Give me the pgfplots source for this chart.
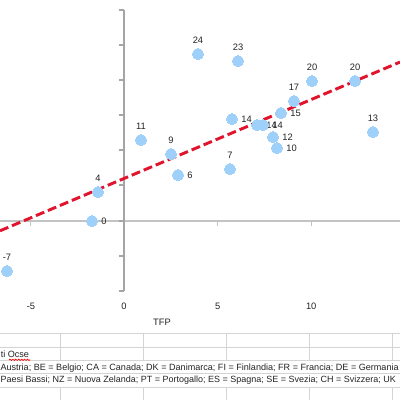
\documentclass[border=0pt]{standalone}
\usepackage{fontspec}
\setmainfont{Liberation Sans}
\usepackage{pgfplots}
\usepackage{pgfplotstable}
\pgfplotsset{compat=1.18}
\usetikzlibrary{decorations.pathmorphing}
\definecolor{dotblue}{RGB}{158,208,250}
\definecolor{trendred}{RGB}{225,20,45}
\definecolor{axgray}{RGB}{165,165,165}
\definecolor{xaxgray}{RGB}{195,195,195}
\definecolor{gridgray}{RGB}{212,212,212}
\definecolor{txt}{RGB}{35,35,35}

\pgfplotstableread{
x y label
3.953 23.857 24
0.908 11.571 11
2.511 9.571 9
-1.389 4.143 4
6.090 22.857 23
10.043 20.0 20
12.340 20.0 20
9.081 17.143 17
5.662 7.429 7
13.301 12.714 13
-6.250 -7.143 -7
}\abovedata

\pgfplotstableread{
x y label
2.885 6.571 6
8.387 15.429 15
5.769 14.571 14
7.105 13.714 14
7.425 13.714 14
7.959 12.0 12
8.173 10.429 10
-1.709 0.0 0
}\rightdata

\begin{document}
\begin{tikzpicture}
\useasboundingbox (0pt,0pt) rectangle (300pt,300pt);
\clip (0pt,0pt) rectangle (300pt,300pt);
\begin{scope}[shift={(0pt,300pt)}, x=0.75pt, y=-0.75pt]
  % spreadsheet grid
  \foreach \yy in {334,348,361,374,388} \draw[gridgray, line width=0.75pt] (-2,\yy) -- (402,\yy);
  \foreach \xx in {60,143,226,309,392} {
    \draw[gridgray, line width=0.75pt] (\xx,334) -- (\xx,361);
    \draw[gridgray, line width=0.75pt] (\xx,388) -- (\xx,402);
  }
  % spreadsheet text
  \node[anchor=base west, inner sep=0pt, font=\fontsize{6.8}{7}\selectfont, text=txt] at (0.5,357.3) {ti Ocse};
  \draw[red, line width=0.5pt, decorate, decoration={snake, amplitude=0.5pt, segment length=2.2pt}] (9,359.8) -- (30,359.8);
  \node[anchor=base west, inner sep=0pt, font=\fontsize{6.8}{7}\selectfont, text=txt] at (0.3,370) {Austria; BE = Belgio; CA = Canada; DK = Danimarca; FI = Finlandia; FR = Francia; DE = Germania};
  \node[anchor=base west, inner sep=0pt, font=\fontsize{6.75}{7}\selectfont, text=txt] at (0.3,383) {Paesi Bassi; NZ = Nuova Zelanda; PT = Portogallo; ES = Spagna; SE = Svezia; CH = Svizzera; UK};
  % x axis
  \draw[xaxgray, line width=0.8pt] (-2,221) -- (402,221);
  \foreach \xx in {30.4,217.6,311.2} \draw[xaxgray, line width=0.8pt] (\xx,221) -- (\xx,226);
  % y axis
  \draw[axgray, line width=1.1pt] (124,10) -- (124,291);
  \foreach \yy in {10,45,80,115,150,185,221,256,291} \draw[axgray, line width=1pt] (124,\yy) -- (119,\yy);
  % tick labels
  \foreach \xx/\lab in {31/{-5},124/0,217.6/5,311.2/10}
    \node[inner sep=0pt, font=\fontsize{7}{8}\selectfont, text=txt] at (\xx,306) {\lab};
  \node[inner sep=0pt, font=\fontsize{7}{8}\selectfont, text=txt] at (162,322) {TFP};
\end{scope}
\begin{axis}[
  at={(0pt,0pt)}, anchor=south west,
  width=300pt, height=300pt, scale only axis,
  xmin=-6.624, xmax=14.744, ymin=-25.571, ymax=31.571,
  axis lines=none, clip=false,
]
\addplot[only marks, mark=*, mark size=4.1pt, color=dotblue,
  mark options={draw=dotblue, fill=dotblue, line width=0pt},
  nodes near coords, point meta=explicit symbolic,
  every node near coord/.append style={font=\fontsize{7}{8}\selectfont, text=txt, inner sep=0pt, anchor=center, yshift=10.1pt}]
  table[x=x, y=y, meta=label] {\abovedata};
\addplot[only marks, mark=*, mark size=4.1pt, color=dotblue,
  mark options={draw=dotblue, fill=dotblue, line width=0pt},
  nodes near coords, point meta=explicit symbolic,
  every node near coord/.append style={font=\fontsize{7}{8}\selectfont, text=txt, inner sep=0pt, anchor=west, xshift=7pt}]
  table[x=x, y=y, meta=label] {\rightdata};
\addplot[trendred, line width=2.2pt, dash pattern=on 6.75pt off 3pt] coordinates {(-6.624,-1.40) (14.744,22.70)};
\end{axis}
\end{tikzpicture}
\end{document}
